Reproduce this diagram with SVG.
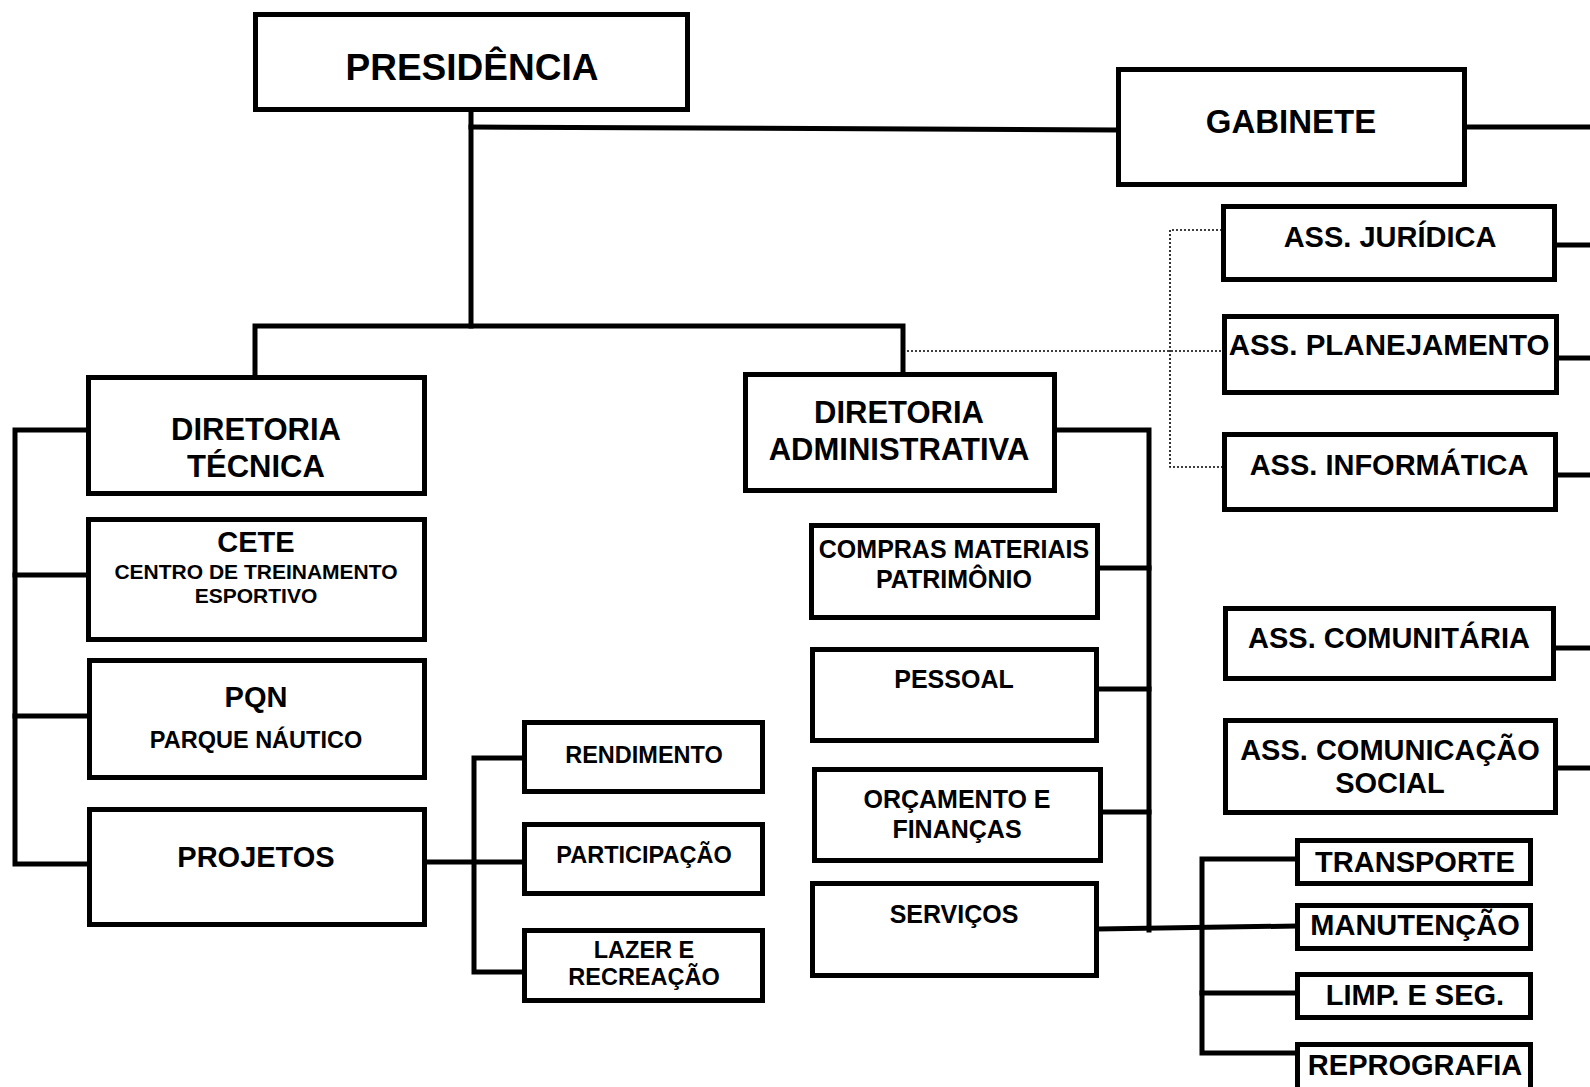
<svg xmlns="http://www.w3.org/2000/svg" width="1590" height="1087" viewBox="0 0 1590 1087">
<style>
  .box { fill: #ffffff; stroke: #000000; stroke-width: 5; }
  .ln { fill: none; stroke: #000000; stroke-width: 5; stroke-linejoin: miter; stroke-linecap: square; }
  .dot { fill: none; stroke: #000000; stroke-width: 1.6; stroke-dasharray: 2 2; }
  text { font-family: "Liberation Sans", Arial, sans-serif; font-weight: bold; text-anchor: middle; fill: #000000; }
  .t37 { font-size: 37px; }
  .t33 { font-size: 33px; }
  .t31 { font-size: 31px; }
  .t29 { font-size: 29px; }
  .t29a { font-size: 29.5px; }
  .t25 { font-size: 25px; }
  .t23 { font-size: 23.5px; }
  .t21 { font-size: 21px; }
</style>
<rect width="1590" height="1087" fill="#ffffff"/>
<g id="connectors">
  <path class="ln" d="M471,112 V326"/>
  <path class="ln" d="M471,127 L1116,130"/>
  <path class="ln" d="M255,375 V326 H903 V372"/>
  <path class="ln" d="M1467,127 H1590"/>
  <path class="ln" d="M1557,245 H1590"/>
  <path class="ln" d="M1559,358 H1590"/>
  <path class="ln" d="M1558,475 H1590"/>
  <path class="ln" d="M1556,648 H1590"/>
  <path class="ln" d="M1558,768 H1590"/>
  <path class="ln" d="M86,430 H15 V864 H87"/>
  <path class="ln" d="M15,575 H86"/>
  <path class="ln" d="M15,716 H87"/>
  <path class="ln" d="M427,862 H522"/>
  <path class="ln" d="M522,758 H474 V972 H522"/>
  <path class="ln" d="M1057,430 H1149 V930"/>
  <path class="ln" d="M1100,568 H1149"/>
  <path class="ln" d="M1099,689 H1149"/>
  <path class="ln" d="M1103,812 H1149"/>
  <path class="ln" d="M1099,929 L1295,926"/>
  <path class="ln" d="M1295,859 H1202 V1053 H1295"/>
  <path class="ln" d="M1202,993 H1295"/>
  <path class="dot" d="M903,351 H1222"/>
  <path class="dot" d="M1222,230 H1170 V467 H1222"/>
</g>
<g id="presidencia"><rect class="box" x="255.5" y="14.5" width="432" height="95"/><text class="t37" x="472" y="80">PRESIDÊNCIA</text></g>
<g id="gabinete"><rect class="box" x="1118.5" y="69.5" width="346" height="115"/><text class="t33" x="1291" y="133">GABINETE</text></g>
<g id="ass-juridica"><rect class="box" x="1223.5" y="206.5" width="331" height="73"/><text class="t29" x="1390" y="247">ASS. JURÍDICA</text></g>
<g id="ass-planejamento"><rect class="box" x="1224.5" y="316.5" width="332" height="76"/><text class="t29a" x="1389" y="355">ASS. PLANEJAMENTO</text></g>
<g id="ass-informatica"><rect class="box" x="1224.5" y="434.5" width="331" height="75"/><text class="t29" x="1389" y="475">ASS. INFORMÁTICA</text></g>
<g id="ass-comunitaria"><rect class="box" x="1225.5" y="608.5" width="328" height="70"/><text class="t29" x="1389" y="648">ASS. COMUNITÁRIA</text></g>
<g id="ass-comunicacao"><rect class="box" x="1225.5" y="720.5" width="330" height="92"/><text class="t29" x="1390" y="760">ASS. COMUNICAÇÃO</text><text class="t29" x="1390" y="793">SOCIAL</text></g>
<g id="diretoria-tecnica"><rect class="box" x="88.5" y="377.5" width="336" height="116"/><text class="t31" x="256" y="440">DIRETORIA</text><text class="t31" x="256" y="477">TÉCNICA</text></g>
<g id="cete"><rect class="box" x="88.5" y="519.5" width="336" height="120"/><text class="t29" x="256" y="552">CETE</text><text class="t21" x="256" y="579">CENTRO DE TREINAMENTO</text><text class="t21" x="256" y="603">ESPORTIVO</text></g>
<g id="pqn"><rect class="box" x="89.5" y="660.5" width="335" height="117"/><text class="t29" x="256" y="707">PQN</text><text class="t23" x="256" y="748">PARQUE NÁUTICO</text></g>
<g id="projetos"><rect class="box" x="89.5" y="809.5" width="335" height="115"/><text class="t29" x="256" y="867">PROJETOS</text></g>
<g id="rendimento"><rect class="box" x="524.5" y="722.5" width="238" height="69"/><text class="t23" x="644" y="763">RENDIMENTO</text></g>
<g id="participacao"><rect class="box" x="524.5" y="824.5" width="238" height="69"/><text class="t23" x="644" y="863">PARTICIPAÇÃO</text></g>
<g id="lazer"><rect class="box" x="524.5" y="930.5" width="238" height="70"/><text class="t23" x="644" y="958">LAZER E</text><text class="t23" x="644" y="985">RECREAÇÃO</text></g>
<g id="diretoria-administrativa"><rect class="box" x="745.5" y="374.5" width="309" height="116"/><text class="t31" x="899" y="423">DIRETORIA</text><text class="t31" x="899" y="460">ADMINISTRATIVA</text></g>
<g id="compras"><rect class="box" x="811.5" y="525.5" width="286" height="92"/><text class="t25" x="954" y="558">COMPRAS MATERIAIS</text><text class="t25" x="954" y="588">PATRIMÔNIO</text></g>
<g id="pessoal"><rect class="box" x="812.5" y="649.5" width="284" height="91"/><text class="t25" x="954" y="688">PESSOAL</text></g>
<g id="orcamento"><rect class="box" x="814.5" y="769.5" width="286" height="91"/><text class="t25" x="957" y="808">ORÇAMENTO E</text><text class="t25" x="957" y="838">FINANÇAS</text></g>
<g id="servicos"><rect class="box" x="812.5" y="883.5" width="284" height="92"/><text class="t25" x="954" y="923">SERVIÇOS</text></g>
<g id="transporte"><rect class="box" x="1297.5" y="840.5" width="233" height="43"/><text class="t29" x="1415" y="872">TRANSPORTE</text></g>
<g id="manutencao"><rect class="box" x="1297.5" y="905.5" width="233" height="43"/><text class="t29" x="1415" y="935">MANUTENÇÃO</text></g>
<g id="limpeza"><rect class="box" x="1297.5" y="974.5" width="233" height="43"/><text class="t29" x="1415" y="1005">LIMP. E SEG.</text></g>
<g id="reprografia"><rect class="box" x="1297.5" y="1044.5" width="233" height="50"/><text class="t29" x="1415" y="1075">REPROGRAFIA</text></g>
</svg>
